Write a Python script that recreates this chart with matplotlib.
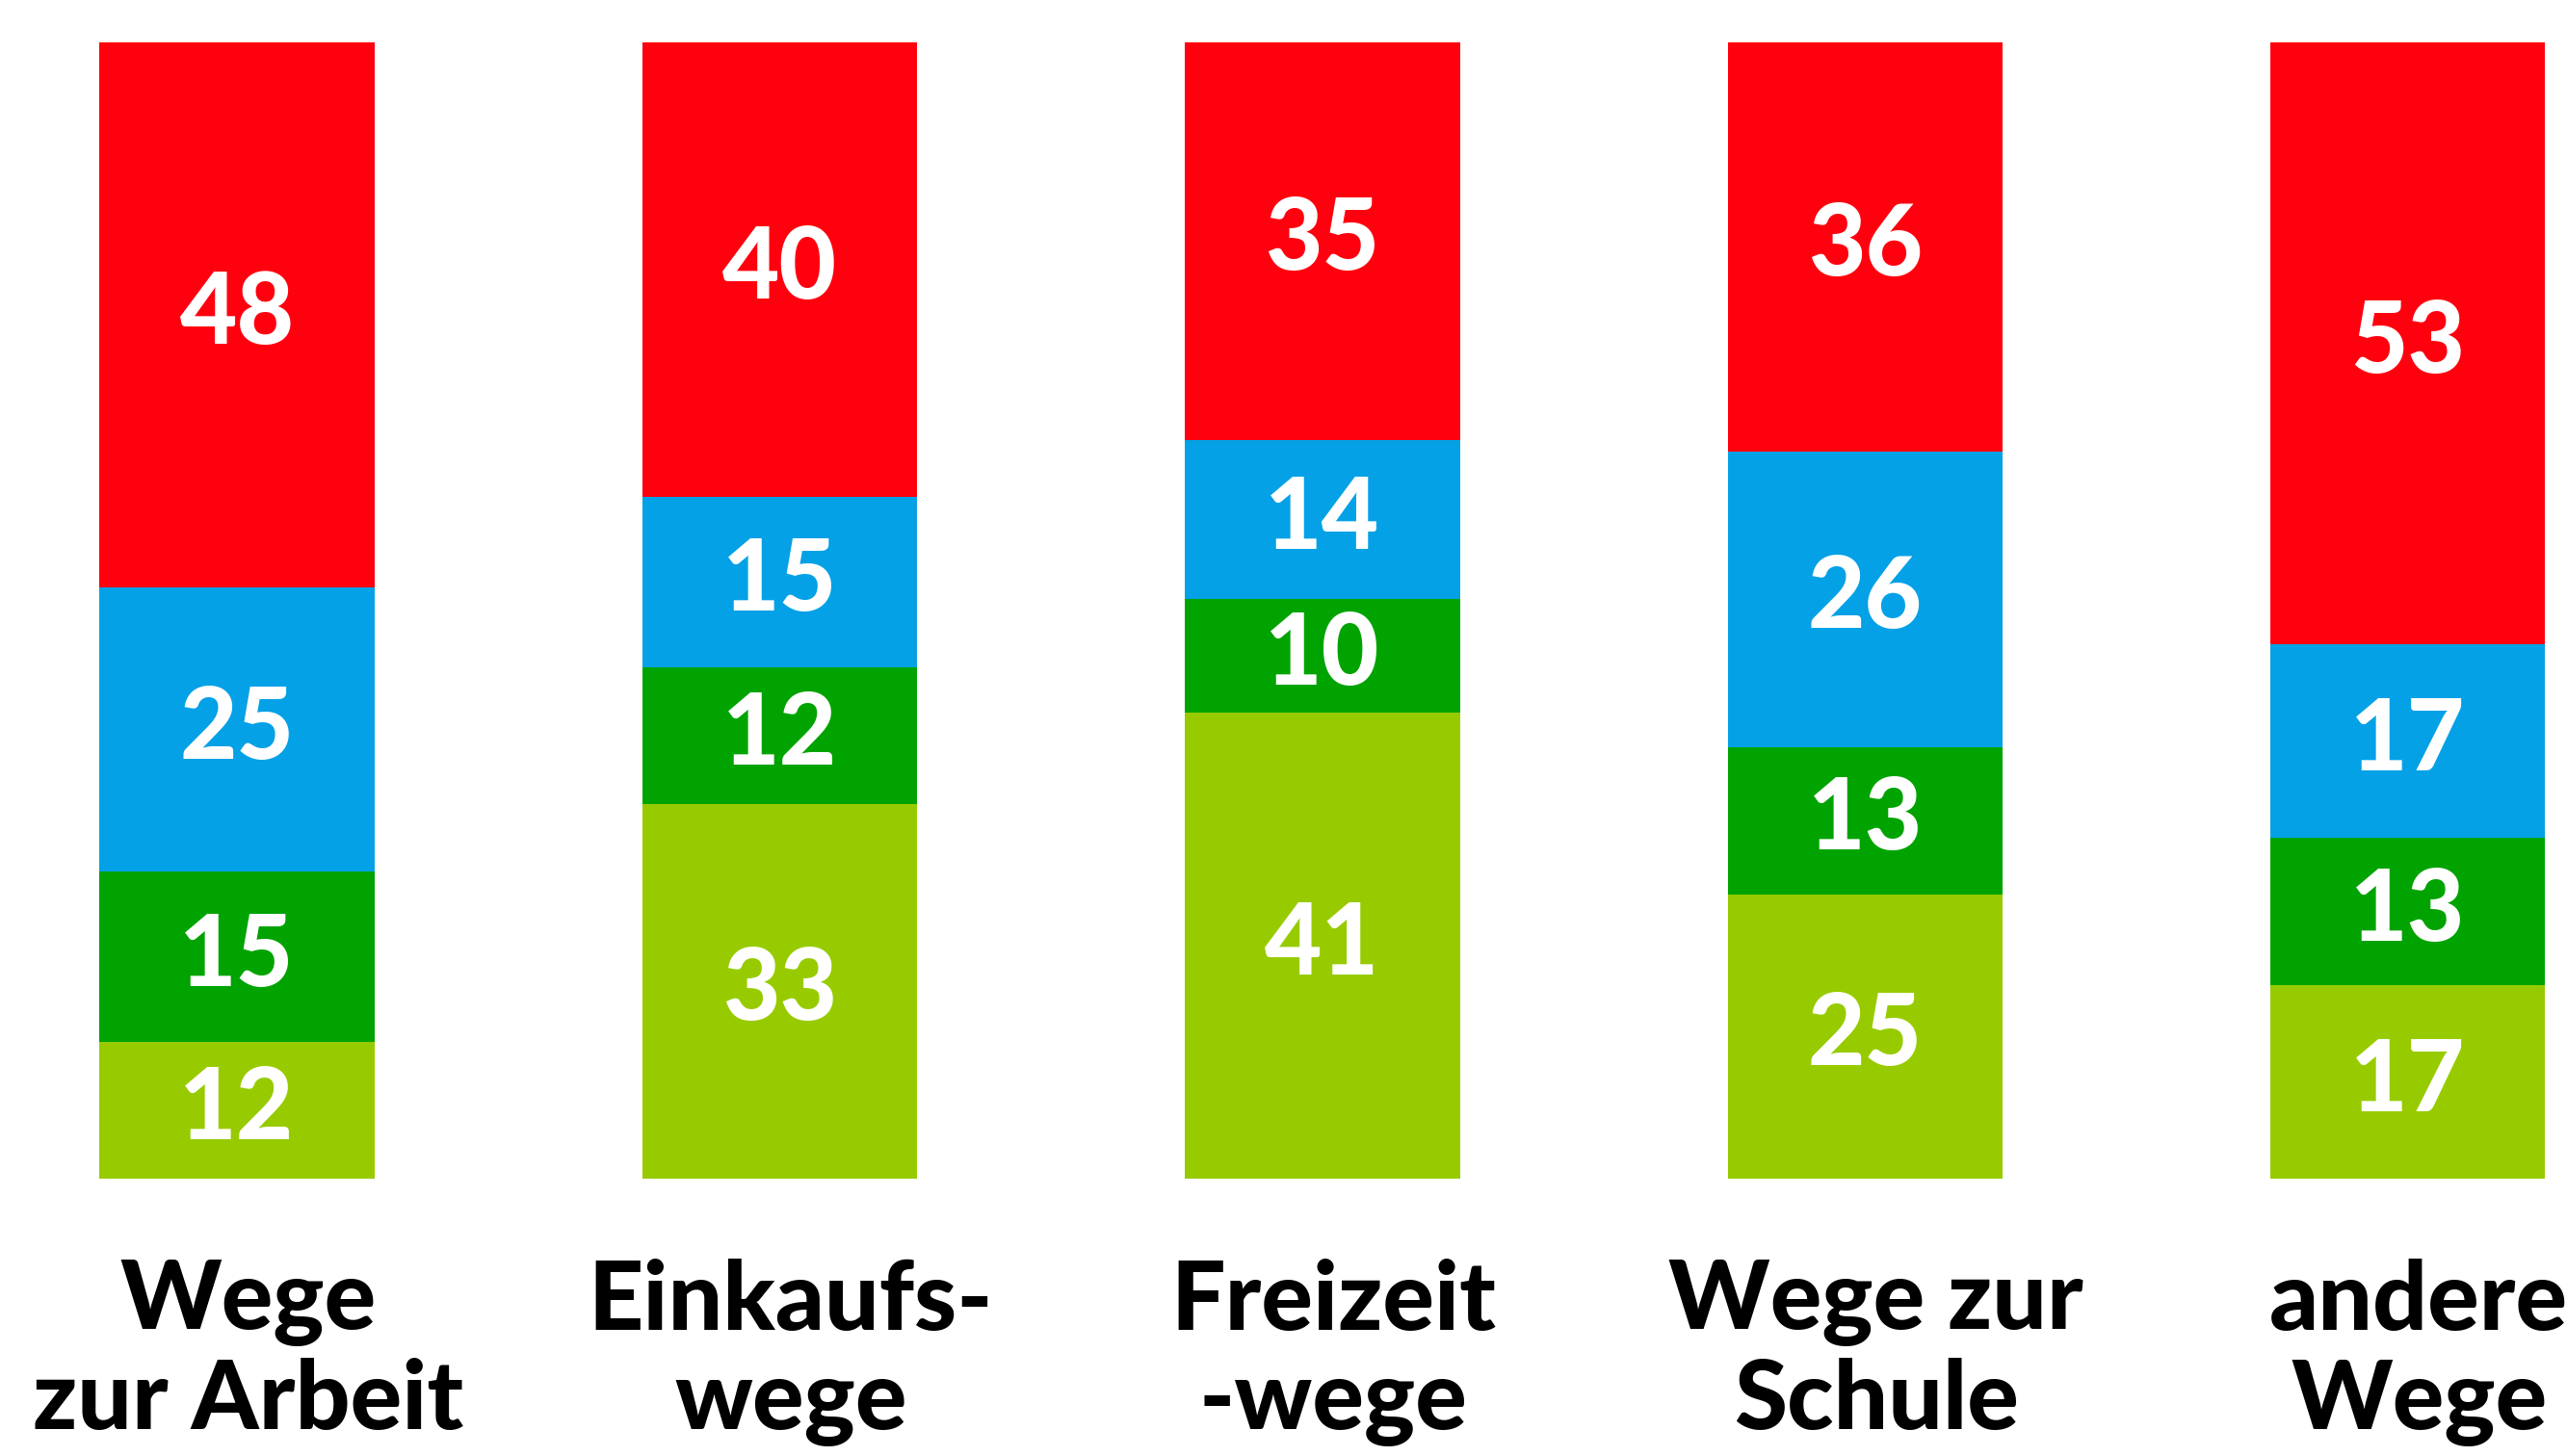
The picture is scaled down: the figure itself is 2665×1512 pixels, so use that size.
import numpy as np
import matplotlib
matplotlib.use('Agg')
import matplotlib.pyplot as plt

# data (percent shares per trip purpose), bottom -> top
categories = ['Wege\nzur Arbeit', 'Einkaufs-\nwege', 'Freizeit\n-wege',
              'Wege zur\nSchule', 'andere\nWege']
light_green = [12, 33, 41, 25, 17]
dark_green  = [15, 12, 10, 13, 13]
blue        = [25, 15, 14, 26, 17]
red         = [48, 40, 35, 36, 53]

series = [light_green, dark_green, blue, red]
colors = ['#97CB00', '#00A300', '#04A1E6', '#FF000E']

plt.rcParams['font.family'] = ['Lato', 'DejaVu Sans']

fig = plt.figure(figsize=(26.65, 15.12), dpi=100)
ax = fig.add_axes([0, 0.1905, 1, 0.7804])

x = np.arange(len(categories))
bottom = np.zeros(len(categories))
for vals, col in zip(series, colors):
    vals = np.array(vals)
    ax.bar(x, vals, width=0.506, bottom=bottom, color=col, linewidth=0)
    for xi, b, v in zip(x, bottom, vals):
        ax.text(xi, b + v / 2, str(v), ha='center', va='center',
                color='white', fontsize=74, fontweight='black')
    bottom += vals

for xi, lab in zip(x, categories):
    ax.text(xi + 0.02, -7.0, lab, ha='center', va='top', color='black',
            fontsize=72, fontweight='black', linespacing=1.17,
            multialignment='center', clip_on=False)

ax.set_xlim(-0.4366, 4.293)
ax.set_ylim(0, 100)
ax.axis('off')

fig.savefig('out.png', dpi=100)
